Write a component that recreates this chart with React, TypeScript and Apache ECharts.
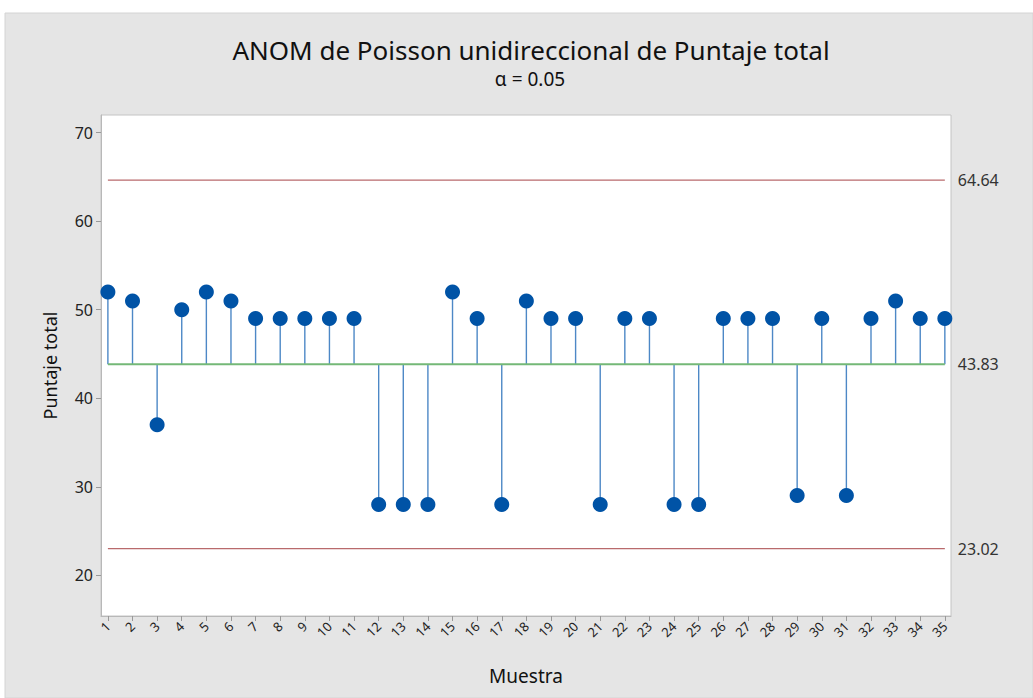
import React, { useEffect, useRef } from "react";
import * as echarts from "echarts";

const samples = [
  1, 2, 3, 4, 5, 6, 7, 8, 9, 10, 11, 12, 13, 14, 15, 16, 17, 18, 19, 20, 21, 22, 23, 24, 25, 26, 27, 28, 29, 30, 31, 32, 33, 34, 35,
];
const scores = [
  52, 51, 37, 50, 52, 51, 49, 49, 49, 49, 49, 28, 28, 28, 52, 49, 28, 51, 49, 49, 28, 49, 49, 28, 28, 49, 49, 49, 29, 49, 29, 49, 51, 49, 49,
];
const centerLine = 43.83;
const upperLimit = 64.64;
const lowerLimit = 23.02;
const yTicks = [20, 30, 40, 50, 60, 70];

const FONT = "'Noto Sans', 'Open Sans', sans-serif";

export default function App() {
  const ref = useRef<HTMLDivElement>(null);
  useEffect(() => {
    document.body.style.margin = "0";
    const chart = echarts.init(ref.current!, null, { renderer: "svg" });
    const pts = samples.map((s, i) => [s, scores[i]]);
    const first = samples[0];
    const last = samples[samples.length - 1];
    const hline = (v: number, color: string, width: number, z: number) => ({
      type: "line",
      data: [
        [first, v],
        [last, v],
      ],
      symbol: "none",
      silent: true,
      z,
      lineStyle: { color, width },
      endLabel: {
        show: true,
        formatter: () => v.toFixed(2),
        color: "#333",
        fontSize: 16,
        fontFamily: FONT,
        distance: 13,
      },
    });
    chart.setOption({
      animation: false,
      backgroundColor: "#ffffff",
      textStyle: { fontFamily: FONT },
      graphic: [
        {
          type: "rect",
          z: -10,
          shape: { x: 5, y: 13, width: 1028, height: 685 },
          style: { fill: "#e5e5e5", stroke: "#d4d4d4", lineWidth: 1 },
          silent: true,
        },
      ],
      title: [
        {
          text: "ANOM de Poisson unidireccional de Puntaje total",
          left: 526,
          textAlign: "center",
          top: 30,
          textStyle: { fontFamily: FONT, fontSize: 26, fontWeight: "normal", color: "#111", lineHeight: 30 },
        },
        {
          text: "α = 0.05",
          left: 525,
          textAlign: "center",
          top: 63,
          textStyle: { fontFamily: FONT, fontSize: 19, fontWeight: "normal", color: "#111", lineHeight: 22 },
        },
      ],
      grid: {
        left: 101,
        top: 115,
        right: 82,
        bottom: 82,
        show: true,
        backgroundColor: "#ffffff",
        borderColor: "#c4c4c4",
        borderWidth: 1,
      },
      xAxis: {
        type: "value",
        min: 0.72,
        max: 35.25,
        name: "Muestra",
        nameLocation: "middle",
        nameGap: 50,
        nameTextStyle: { fontSize: 19, color: "#111", fontFamily: FONT },
        axisLine: { show: true, lineStyle: { color: "#b8b8b8" } },
        axisTick: { show: true, length: 5, lineStyle: { color: "#999" }, customValues: samples },
        axisLabel: {
          customValues: samples,
          rotate: 45,
          fontSize: 13,
          color: "#222",
          margin: 8,
          fontFamily: FONT,
        },
        splitLine: { show: false },
      },
      yAxis: {
        type: "value",
        min: 15.4,
        max: 72,
        name: "Puntaje total",
        nameLocation: "middle",
        nameGap: 42,
        nameTextStyle: { fontSize: 18, color: "#111", fontFamily: FONT },
        axisLine: { show: true, lineStyle: { color: "#b8b8b8" } },
        axisTick: { show: true, length: 5, lineStyle: { color: "#999" }, customValues: yTicks },
        axisLabel: { customValues: yTicks, fontSize: 16, color: "#222", margin: 8, fontFamily: FONT },
        splitLine: { show: false },
      },
      series: [
        {
          type: "custom",
          data: pts,
          z: 2,
          silent: true,
          renderItem: (params: any, api: any) => {
            const x = api.value(0);
            const v = api.value(1);
            const p0 = api.coord([x, centerLine]);
            const p1 = api.coord([x, v]);
            return {
              type: "line",
              shape: { x1: p0[0], y1: p0[1], x2: p1[0], y2: p1[1] },
              style: { stroke: "#4d88c6", lineWidth: 1.4 },
            };
          },
        },
        hline(upperLimit, "#b96a6c", 1.3, 3),
        hline(centerLine, "#74b877", 2, 4),
        hline(lowerLimit, "#b96a6c", 1.3, 3),
        {
          type: "scatter",
          data: pts,
          symbol: "circle",
          symbolSize: 15,
          z: 5,
          itemStyle: { color: "#0053a6", opacity: 1 },
        },
      ],
    });
    return () => chart.dispose();
  }, []);
  return <div ref={ref} style={{ width: 1033, height: 698 }} />;
}
